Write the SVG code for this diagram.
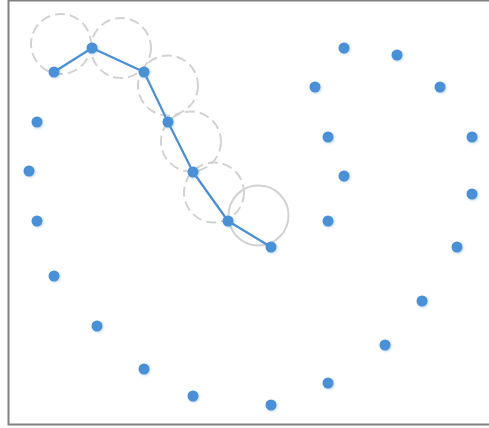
<svg xmlns="http://www.w3.org/2000/svg" width="489" height="428" viewBox="0 0 489 428">
<style>
.dot{fill:#4a90d6;filter:url(#sh)}
.ring{fill:none;stroke:#d2d2d2;stroke-width:2;stroke-dasharray:10 5}
.ring.solid{stroke-dasharray:none}
.path{fill:none;stroke:#4a90d6;stroke-width:2.2;stroke-linejoin:round}
</style>
<defs>
<filter id="sh" x="-50%" y="-50%" width="200%" height="200%">
<feGaussianBlur in="SourceAlpha" stdDeviation="1.3"/>
<feOffset dx="0.5" dy="1.2" result="b"/>
<feFlood flood-color="#4a90d6" flood-opacity="0.35"/>
<feComposite in2="b" operator="in"/>
<feMerge><feMergeNode/><feMergeNode in="SourceGraphic"/></feMerge>
</filter>
</defs>
<rect x="0" y="0" width="489" height="428" fill="#ffffff"/>
<rect id="frame" x="8.5" y="0.5" width="500" height="424" fill="none" stroke="#808080" stroke-width="2"/>
<g id="rings">
<circle class="ring" cx="61" cy="44" r="30"/>
<circle class="ring" cx="121" cy="48" r="30"/>
<circle class="ring" cx="168" cy="85.5" r="30"/>
<circle class="ring" cx="191" cy="141.5" r="30"/>
<circle class="ring" cx="214" cy="192.5" r="30"/>
<circle class="ring solid" cx="258.5" cy="215.5" r="30"/>
</g>
<g id="connectors">
<polyline class="path" points="54,72 92,48 144,72 168,122 193,172 228,221 271,247"/>
</g>
<g id="nodes">
<circle id="n1" class="dot" cx="54" cy="72" r="5.5"/>
<circle id="n2" class="dot" cx="92" cy="48" r="5.5"/>
<circle id="n3" class="dot" cx="144" cy="72" r="5.5"/>
<circle id="n4" class="dot" cx="168" cy="122" r="5.5"/>
<circle id="n5" class="dot" cx="193" cy="172" r="5.5"/>
<circle id="n6" class="dot" cx="228" cy="221" r="5.5"/>
<circle id="n7" class="dot" cx="271" cy="247" r="5.5"/>
<circle id="n8" class="dot" cx="37" cy="122" r="5.5"/>
<circle id="n9" class="dot" cx="29" cy="171" r="5.5"/>
<circle id="n10" class="dot" cx="37" cy="221" r="5.5"/>
<circle id="n11" class="dot" cx="54" cy="276" r="5.5"/>
<circle id="n12" class="dot" cx="97" cy="326" r="5.5"/>
<circle id="n13" class="dot" cx="144" cy="369" r="5.5"/>
<circle id="n14" class="dot" cx="193" cy="396" r="5.5"/>
<circle id="n15" class="dot" cx="271" cy="405" r="5.5"/>
<circle id="n16" class="dot" cx="328" cy="383" r="5.5"/>
<circle id="n17" class="dot" cx="385" cy="345" r="5.5"/>
<circle id="n18" class="dot" cx="422" cy="301" r="5.5"/>
<circle id="n19" class="dot" cx="457" cy="247" r="5.5"/>
<circle id="n20" class="dot" cx="472" cy="194" r="5.5"/>
<circle id="n21" class="dot" cx="472" cy="137" r="5.5"/>
<circle id="n22" class="dot" cx="440" cy="87" r="5.5"/>
<circle id="n23" class="dot" cx="397" cy="55" r="5.5"/>
<circle id="n24" class="dot" cx="344" cy="48" r="5.5"/>
<circle id="n25" class="dot" cx="315" cy="87" r="5.5"/>
<circle id="n26" class="dot" cx="328" cy="137" r="5.5"/>
<circle id="n27" class="dot" cx="344" cy="176" r="5.5"/>
<circle id="n28" class="dot" cx="328" cy="221" r="5.5"/>
</g>
</svg>
